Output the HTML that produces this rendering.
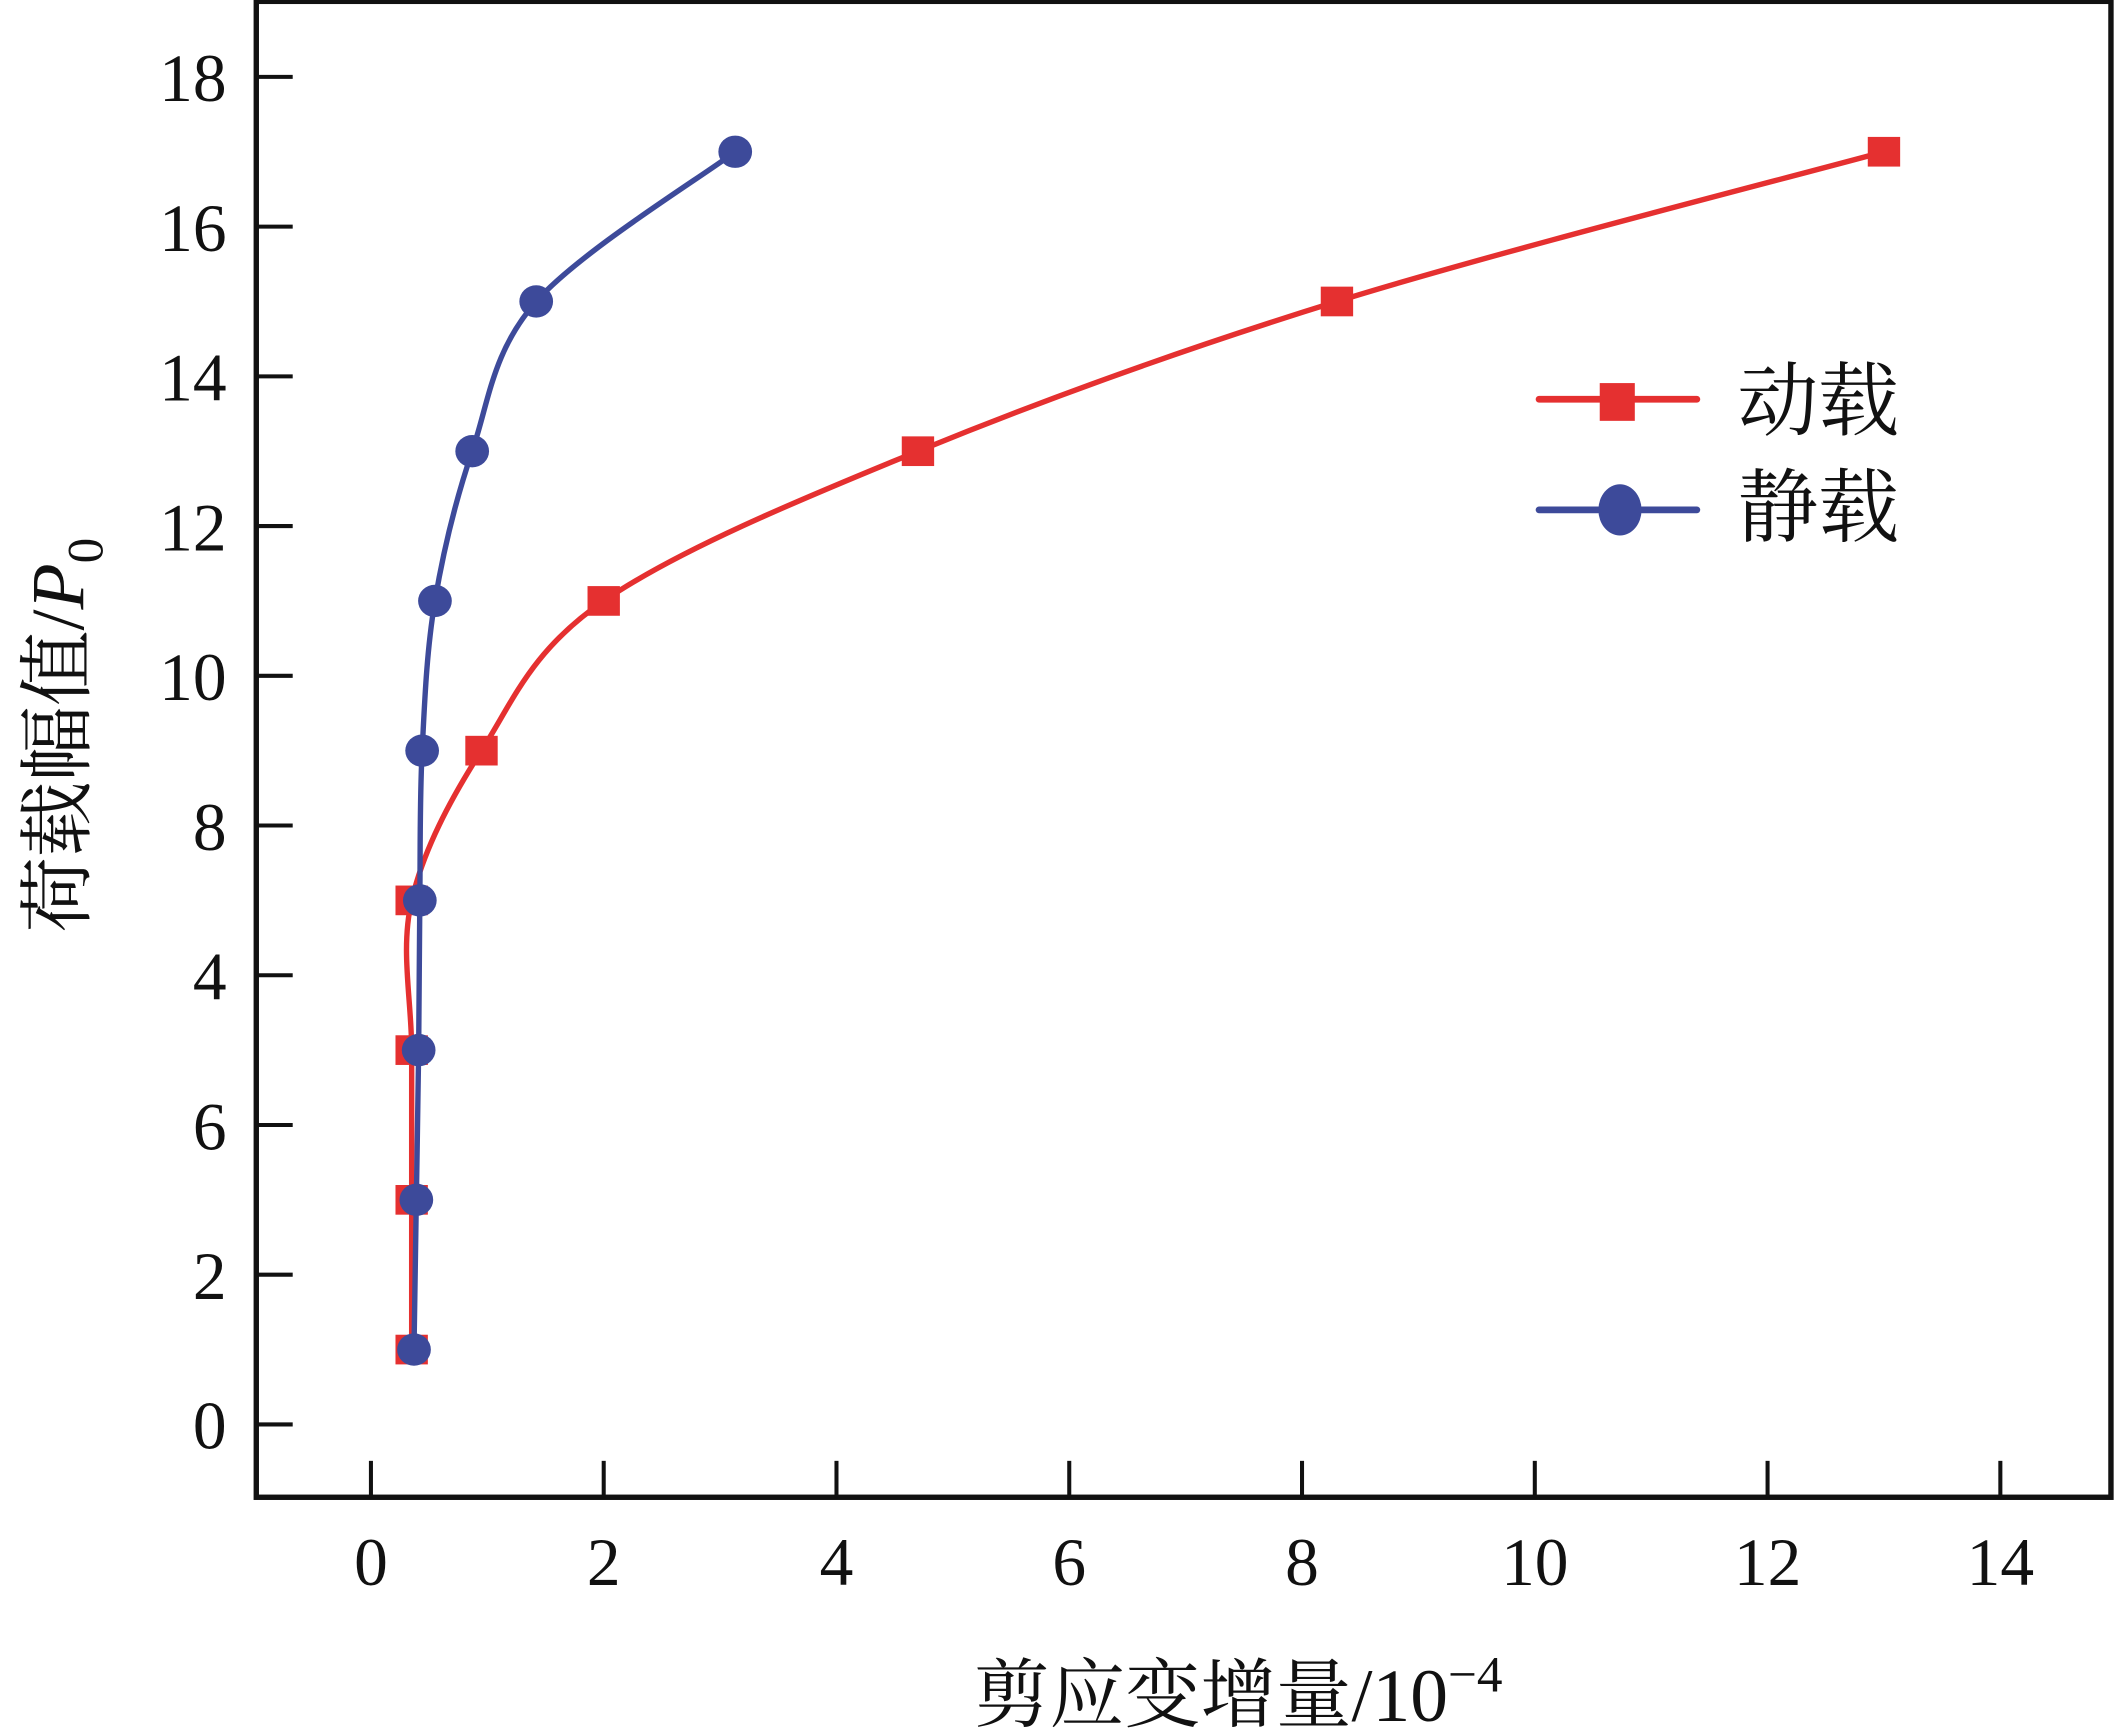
<!DOCTYPE html>
<html><head><meta charset="utf-8"><style>
html,body{margin:0;padding:0;background:#fff}
svg{display:block}
text{font-family:"Liberation Serif","Noto Serif CJK SC",serif;fill:#111}
</style></head><body>
<svg id="chart" width="2115" height="1734" viewBox="0 0 1568 1285.5" preserveAspectRatio="none" xmlns="http://www.w3.org/2000/svg">
<rect x="190" y="1" width="1375" height="1109" fill="none" stroke="#111" stroke-width="4"/>
<g id="xticks"></g>
<g id="yticks"></g>
<g id="series"></g>
<text x="918" y="1276" font-size="56" text-anchor="middle">剪应变增量/10<tspan dy="-22" font-size="38">−4</tspan></text>
<text transform="translate(62,545) rotate(-90)" font-size="56" text-anchor="middle">荷载幅值/<tspan font-style="italic">P</tspan><tspan dy="14" font-size="38">0</tspan></text>
<g>
<g>
<line x1="1141" y1="296" x2="1258" y2="296" stroke="#e53030" stroke-width="5" stroke-linecap="round"/>
<rect x="1186" y="284" width="26" height="28" fill="#e53030"/>
<text x="1288" y="318" font-size="60">动载</text></g>
<g>
<line x1="1141" y1="378" x2="1258" y2="378" stroke="#3d4a9a" stroke-width="5" stroke-linecap="round"/>
<ellipse cx="1201" cy="378" rx="16" ry="19" fill="#3d4a9a"/>
<text x="1288" y="397" font-size="60">静载</text></g>
</g>
</svg>
<script>
const xTicks=[0,2,4,6,8,10,12,14];
const yTickVals=[0,2,4,6,8,10,12,14,16,18];
const yTickLabels=["0","2","6","4","8","10","12","14","16","18"];
const dynX=[0.35,0.35,0.35,0.35,0.95,2.0,4.7,8.3,13.0];
const dynY=[1,3,5,7,9,11,13,15,17];
const staX=[0.37,0.39,0.41,0.42,0.44,0.55,0.87,1.42,3.13];
const staY=[1,3,5,7,9,11,13,15,17];
const NS="http://www.w3.org/2000/svg";
const sx=v=>275+v*(1483-275)/14;
const sy=v=>1056-v*(1056-57)/18;
function mk(t,a,p){const e=document.createElementNS(NS,t);for(const k in a)e.setAttribute(k,a[k]);p.appendChild(e);return e;}
const gx=document.getElementById('xticks'),gy=document.getElementById('yticks'),gs=document.getElementById('series');
xTicks.forEach(v=>{
 const l=mk('line',{x1:sx(v),x2:sx(v),y1:1110,y2:1083,stroke:'#111','stroke-width':3},gx);
 
 
 const t=mk('text',{x:sx(v),y:1175,'font-size':50,'text-anchor':'middle'},gx);t.textContent=v;
 
 
});
yTickVals.forEach((v,i)=>{
 const l=mk('line',{x1:190,x2:217,y1:sy(v),y2:sy(v),stroke:'#111','stroke-width':3},gy);
 
 
 const t=mk('text',{x:168,y:sy(v)+18,'font-size':50,'text-anchor':'end'},gy);t.textContent=yTickLabels[i];
 
 
});
function smooth(pts){let d=`M${pts[0][0]},${pts[0][1]}`;for(let i=0;i<pts.length-1;i++){const p0=pts[Math.max(i-1,0)],p1=pts[i],p2=pts[i+1],p3=pts[Math.min(i+2,pts.length-1)];
 d+=` C${p1[0]+(p2[0]-p0[0])/6},${p1[1]+(p2[1]-p0[1])/6} ${p2[0]-(p3[0]-p1[0])/6},${p2[1]-(p3[1]-p1[1])/6} ${p2[0]},${p2[1]}`;}return d;}
function series(xs,ys,color,name,shape){
 const pts=xs.map((x,i)=>[sx(x),sy(ys[i])]);
 const p=mk('path',{d:smooth(pts),fill:'none',stroke:color,'stroke-width':4},gs);
 
 
 pts.forEach(q=>{let m;
  if(shape==='sq')m=mk('rect',{x:q[0]-12,y:q[1]-11,width:24,height:22,fill:color},gs);
  else m=mk('ellipse',{cx:q[0],cy:q[1],rx:12.5,ry:12,fill:color},gs);
  
  
 });
}
series(dynX,dynY,'#e53030','dynamic-load','sq');
series(staX,staY,'#3d4a9a','static-load','ci');
</script>
</body></html>
